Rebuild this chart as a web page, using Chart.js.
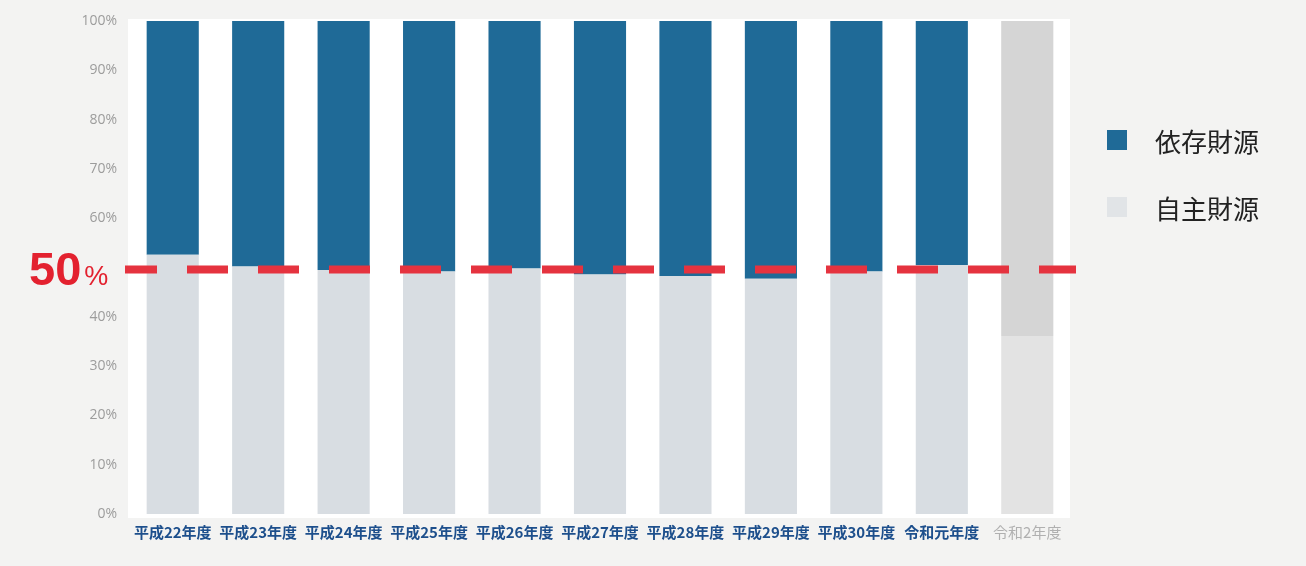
<!DOCTYPE html>
<html lang="ja">
<head>
<meta charset="utf-8">
<title>依存財源と自主財源の割合</title>
<script src="https://cdn.jsdelivr.net/npm/chart.js@4.4.1/dist/chart.umd.min.js"></script>
<style>
  html, body { margin: 0; padding: 0; background: #f3f3f2; }
  #wrap { position: relative; width: 1306px; height: 566px; }
  #legend { position: absolute; left: 1107px; top: 124px; font-family: "Noto Sans CJK JP", sans-serif; }
  .item { display: flex; align-items: center; height: 32px; margin-bottom: 35px; }
  .box { width: 20px; height: 20px; margin-right: 28px; }
  .txt { font-size: 26px; color: #222; }
</style>
</head>
<body>
<div id="wrap">
  <canvas id="chart" width="1306" height="566"></canvas>
  <div id="legend"></div>
</div>
<script>
// 年度
const years = ['平成22年度', '平成23年度', '平成24年度', '平成25年度', '平成26年度',
  '平成27年度', '平成28年度', '平成29年度', '平成30年度', '令和元年度', '令和2年度'];

// 割合(%)
const jishu = [52.6, 50.2, 49.5, 49.2, 49.8, 48.6, 48.3, 47.7, 49.2, 50.5, 36.1];
const izon  = [47.4, 49.8, 50.5, 50.8, 50.2, 51.4, 51.7, 52.3, 50.8, 49.5, 63.9];

const yTicks = [0, 10, 20, 30, 40, 50, 60, 70, 80, 90, 100];
const lineValue = 50;

// 色
const blue = '#1f6a97';
const pale = '#d8dde2';
const greyTop = '#d5d5d5';
const greyBottom = '#e3e3e3';
const lastIdx = years.length - 1;

// 背景(プロット部分は白)
const plotBg = {
  id: 'plotBg',
  beforeDraw(chart) {
    const { ctx, chartArea: a } = chart;
    ctx.save();
    ctx.fillStyle = '#ffffff';
    ctx.fillRect(a.left - 2, a.top - 2, a.right - a.left + 2, a.bottom - a.top + 6);
    ctx.restore();
  }
};

// 50% の赤い破線とラベル
const halfLine = {
  id: 'halfLine',
  afterDatasetsDraw(chart) {
    const { ctx, chartArea: a, scales } = chart;
    const y = scales.y.getPixelForValue(lineValue);
    ctx.save();
    ctx.strokeStyle = '#e5333f';
    ctx.lineWidth = 8;
    ctx.setLineDash([41, 30]);
    ctx.lineDashOffset = 9;
    ctx.beginPath();
    ctx.moveTo(a.left - 5, y + 2);
    ctx.lineTo(a.right + 6, y + 2);
    ctx.stroke();
    ctx.setLineDash([]);

    ctx.fillStyle = '#e3212f';
    ctx.textBaseline = 'alphabetic';
    ctx.font = 'bold 47px "Liberation Sans", Arial, sans-serif';
    ctx.fillText('50', 29, y + 17);
    const w = ctx.measureText('50').width;
    ctx.font = '27px "Liberation Sans", Arial, sans-serif';
    ctx.fillText('%', 29 + w + 3, y + 17);
    ctx.restore();
  }
};

const ctx = document.getElementById('chart').getContext('2d');
const chart = new Chart(ctx, {
  type: 'bar',
  data: {
    labels: years,
    datasets: [
      {
        label: '自主財源',
        data: jishu,
        backgroundColor: years.map((_, i) => i === lastIdx ? greyBottom : pale),
        legendColor: '#e1e4e7'
      },
      {
        label: '依存財源',
        data: izon,
        backgroundColor: years.map((_, i) => i === lastIdx ? greyTop : blue),
        legendColor: blue
      }
    ]
  },
  options: {
    responsive: false,
    animation: false,
    maintainAspectRatio: false,
    layout: { padding: { top: 21, right: 236, bottom: 0, left: 0 } },
    datasets: {
      bar: { categoryPercentage: 1, barPercentage: 0.61, borderWidth: 0 }
    },
    plugins: {
      legend: { display: false },
      tooltip: { enabled: false }
    },
    scales: {
      x: {
        stacked: true,
        grid: { display: false },
        border: { display: false },
        afterFit(s) { s.height = 52; },
        ticks: {
          padding: 1,
          maxRotation: 0,
          autoSkip: false,
          font: (c) => ({
            family: '"Noto Sans CJK JP", sans-serif',
            size: 15,
            weight: c.index === lastIdx ? 'normal' : 'bold'
          }),
          color: (c) => c.index === lastIdx ? '#b0b0b0' : '#1d4f8c'
        }
      },
      y: {
        stacked: true,
        min: 0,
        max: 100,
        afterFit(s) { s.width = 130; },
        afterBuildTicks(s) { s.ticks = yTicks.map(v => ({ value: v })); },
        grid: { display: false },
        border: { display: false },
        ticks: {
          padding: 5,
          color: '#9c9c9c',
          font: { family: '"Open Sans", sans-serif', size: 14 },
          callback: (v) => v === lineValue ? '' : v + '%'
        }
      }
    }
  },
  plugins: [plotBg, halfLine]
});

// 凡例(依存財源を上に)
const legend = document.getElementById('legend');
chart.data.datasets.slice().reverse().forEach(ds => {
  const item = document.createElement('div');
  item.className = 'item';
  item.innerHTML = '<span class="box" style="background:' + ds.legendColor + '"></span>' +
    '<span class="txt">' + ds.label + '</span>';
  legend.appendChild(item);
});
</script>
</body>
</html>
